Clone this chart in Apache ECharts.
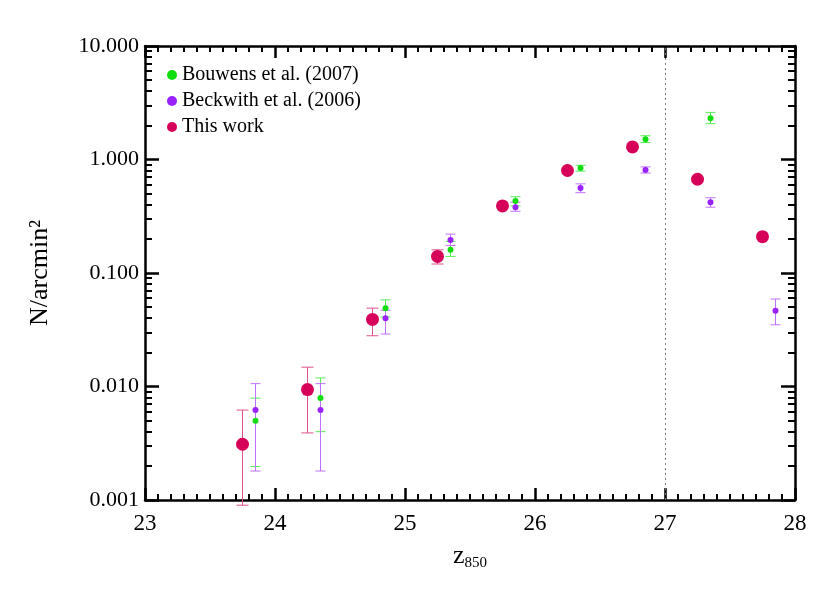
<!DOCTYPE html>
<html><head><meta charset="utf-8">
<script src="https://cdn.jsdelivr.net/npm/echarts@6/dist/echarts.min.js"></script>
<style>html,body{margin:0;background:#fff}#c{width:830px;height:593px}</style>
</head><body><div id="c"></div>
<script>
// [x, value, errLow, errHigh]
const thisWork = [
  [23.75,0.0031,0.0009,0.0062],[24.25,0.0094,0.0039,0.0148],[24.75,0.039,0.028,0.049],
  [25.25,0.14,0.12,0.16],[25.75,0.39,0.39,0.39],[26.25,0.80,0.80,0.80],
  [26.75,1.29,1.29,1.29],[27.25,0.67,0.67,0.67],[27.75,0.209,0.209,0.209]
];
const bouwens = [
  [23.85,0.0050,0.00197,0.0079],[24.35,0.0079,0.0040,0.0119],[24.85,0.049,0.041,0.058],
  [25.35,0.160,0.14,0.19],[25.85,0.43,0.39,0.47],[26.35,0.84,0.79,0.89],
  [26.85,1.51,1.41,1.62],[27.35,2.31,2.07,2.6]
];
const beckwith = [
  [23.85,0.0062,0.0018,0.0106],[24.35,0.0062,0.0018,0.0106],[24.85,0.040,0.029,0.047],
  [25.35,0.195,0.175,0.22],[25.85,0.38,0.35,0.42],[26.35,0.56,0.51,0.61],
  [26.85,0.81,0.76,0.86],[27.35,0.42,0.38,0.46],[27.85,0.0465,0.035,0.059]
];
const xTicks = [23,24,25,26,27,28];
const font = 'Liberation Serif';
function errSeries(data,color,cap){
  return {type:'custom',silent:true,z:2,data:data.filter(d=>d[2]!==d[3]).map(d=>[d[0],d[2],d[3]]),
    renderItem:(p,api)=>{
      const lo=api.coord([api.value(0),api.value(1)]), hi=api.coord([api.value(0),api.value(2)]);
      const st={stroke:color,lineWidth:1};
      return {type:'group',children:[
        {type:'line',shape:{x1:lo[0],y1:lo[1],x2:hi[0],y2:hi[1]},style:st},
        {type:'line',shape:{x1:lo[0]-cap,y1:lo[1],x2:lo[0]+cap,y2:lo[1]},style:st},
        {type:'line',shape:{x1:hi[0]-cap,y1:hi[1],x2:hi[0]+cap,y2:hi[1]},style:st}]};
    }};
}
const axBase = {axisLine:{lineStyle:{color:'#000',width:2.5}},splitLine:{show:false}};
const chart = echarts.init(document.getElementById('c'));
chart.setOption({
  animation:false,
  grid:{left:145,right:35,top:46,bottom:93},
  legend:{left:162,top:60,orient:'vertical',itemGap:6,itemWidth:10,itemHeight:10,
    textStyle:{fontFamily:font,fontSize:20,color:'#000'},
    data:['Bouwens et al. (2007)','Beckwith et al. (2006)','This work']},
  xAxis:[
    Object.assign({type:'value',min:23,max:28,interval:1,position:'bottom',
      name:'{a|z}{b|850}',nameLocation:'middle',nameGap:42,
      nameTextStyle:{rich:{a:{fontFamily:font,fontSize:26,color:'#000'},b:{fontFamily:font,fontSize:15,color:'#000',verticalAlign:'bottom',padding:[14,0,0,0]}}},
      axisTick:{inside:true,length:12,lineStyle:{width:2.5}},
      minorTick:{show:true,splitNumber:10,length:6,lineStyle:{color:'#000',width:2}},
      axisLabel:{fontFamily:font,fontSize:23,color:'#000',margin:12,formatter:v=>xTicks.includes(v)?String(v):''}},axBase),
    Object.assign({type:'value',min:23,max:28,interval:1,position:'top',
      axisTick:{inside:true,length:12,lineStyle:{width:2.5}},
      minorTick:{show:true,splitNumber:10,length:6,lineStyle:{color:'#000',width:2}},
      axisLabel:{show:false}},axBase)
  ],
  yAxis:[
    Object.assign({type:'log',min:0.001,max:10,logBase:10,position:'left',
      name:'N/arcmin²',nameLocation:'middle',nameGap:92,
      nameTextStyle:{fontFamily:font,fontSize:26,color:'#000'},
      axisTick:{inside:true,length:14,lineStyle:{width:2.5}},
      minorTick:{show:true,splitNumber:9,length:7,lineStyle:{color:'#000',width:2}},
      axisLabel:{fontFamily:font,fontSize:22,color:'#000',margin:6,formatter:v=>v.toFixed(3)}},axBase),
    Object.assign({type:'log',min:0.001,max:10,logBase:10,position:'right',
      axisTick:{inside:true,length:14,lineStyle:{width:2.5}},
      minorTick:{show:true,splitNumber:9,length:7,lineStyle:{color:'#000',width:2}},
      axisLabel:{show:false}},axBase)
  ],
  series:[
    errSeries(thisWork,'#e0508a',6),errSeries(bouwens,'#55ee55',5),errSeries(beckwith,'#c070ff',5),
    {name:'Bouwens et al. (2007)',type:'scatter',z:3,symbolSize:6,itemStyle:{color:'#11dd11',opacity:1},data:bouwens.map(d=>[d[0],d[1]])},
    {name:'Beckwith et al. (2006)',type:'scatter',z:3,symbolSize:6,itemStyle:{color:'#9922ff',opacity:1},data:beckwith.map(d=>[d[0],d[1]])},
    {name:'This work',type:'scatter',z:4,symbolSize:13,itemStyle:{color:'#d6005a',opacity:1},data:thisWork.map(d=>[d[0],d[1]]),
      markLine:{silent:true,symbol:'none',label:{show:false},lineStyle:{color:'#777',type:[2,3],width:1},data:[{xAxis:27}]}}
  ]
});
</script></body></html>
